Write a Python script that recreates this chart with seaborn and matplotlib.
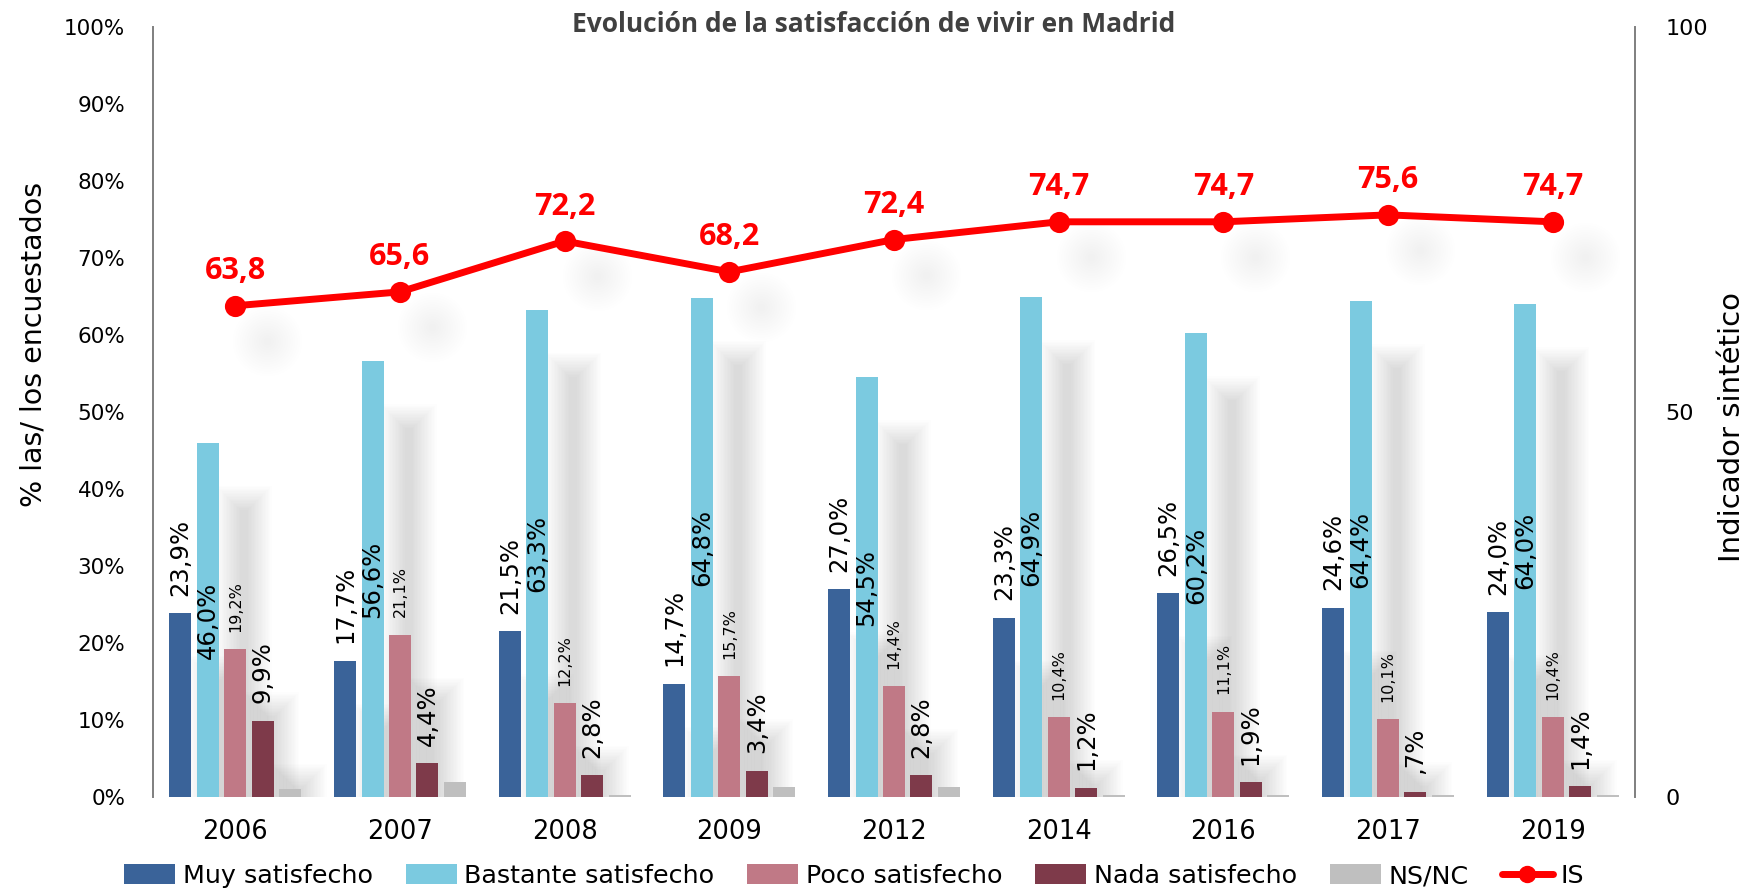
import numpy as np
import pandas as pd
import matplotlib
matplotlib.use("Agg")
import matplotlib.pyplot as plt
import seaborn as sns
from matplotlib.transforms import offset_copy
from matplotlib.patches import Patch
from matplotlib.lines import Line2D
from matplotlib.ticker import PercentFormatter

# ---------------- data ----------------
years = ['2006', '2007', '2008', '2009', '2012', '2014', '2016', '2017', '2019']
categories = ['Muy satisfecho', 'Bastante satisfecho', 'Poco satisfecho',
              'Nada satisfecho', 'NS/NC']
muy = [23.9, 17.7, 21.5, 14.7, 27.0, 23.3, 26.5, 24.6, 24.0]
bastante = [46.0, 56.6, 63.3, 64.8, 54.5, 64.9, 60.2, 64.4, 64.0]
poco = [19.2, 21.1, 12.2, 15.7, 14.4, 10.4, 11.1, 10.1, 10.4]
nada = [9.9, 4.4, 2.8, 3.4, 2.8, 1.2, 1.9, 0.7, 1.4]
nsnc = [1.0, 1.9, 0.2, 1.3, 1.3, 0.2, 0.3, 0.2, 0.2]
is_label = 'IS'
is_vals = [63.8, 65.6, 72.2, 68.2, 72.4, 74.7, 74.7, 75.6, 74.7]
title = 'Evolución de la satisfacción de vivir en Madrid'
ylabel_left = '% las/ los encuestados'
ylabel_right = 'Indicador sintético'

colors = ['#3A6399', '#7BCAE0', '#C07986', '#7E3A4A', '#BFBFBF']
RED = '#FF0000'

series = [muy, bastante, poco, nada, nsnc]


def fmt(v):
    s = f"{v:.1f}".replace('.', ',')
    if s.startswith('0'):
        s = s[1:]
    return s + '%'


# ---------------- figure ----------------
sns.set_theme(style='white')
plt.rcParams['font.family'] = ['DejaVu Sans']
plt.rcParams['text.color'] = 'black'
plt.rcParams['xtick.color'] = 'black'
plt.rcParams['ytick.color'] = 'black'

W, H = 1754, 889
fig = plt.figure(figsize=(W / 100, H / 100), dpi=100)
L, R, B, T = 153, 1635, 797, 27
ax = fig.add_axes([L / W, 1 - B / H, (R - L) / W, (B - T) / H])

df = pd.DataFrame({
    'year': years * len(categories),
    'cat': np.repeat(categories, len(years)),
    'value': np.concatenate(series),
})
sns.barplot(data=df, x='year', y='value', hue='cat', hue_order=categories,
            palette=colors, width=0.833, gap=0.2, saturation=1, ax=ax,
            legend=False, zorder=2, linewidth=0)
bar_containers = list(ax.containers)

# soft drop shadows (Excel style) behind bars
pxx = (R - L) / len(years)
pxy = (B - T) / 100.0
tr_bar = offset_copy(ax.transData, fig=fig, x=36, y=-60, units='dots')
xs, ws, hs = [], [], []
for cont in bar_containers:
    for p in cont:
        xs.append(p.get_x())
        ws.append(p.get_width())
        hs.append(p.get_height())
xs, ws, hs = np.array(xs), np.array(ws), np.array(hs)
N = 18
a = 1 - (1 - 0.16) ** (1 / N)
for k in range(N):
    e = -7 + 24 * k / (N - 1)
    ex, ey = e / pxx, e / pxy
    ax.bar(xs - ex, hs + ey + 10, width=ws + 2 * ex, bottom=-10, align='edge',
           color='black', alpha=a, transform=tr_bar, zorder=1, linewidth=0)

# bar labels
ax.bar_label(bar_containers[0], labels=[fmt(v) for v in muy], rotation=90,
             padding=12.5, fontsize=17.5, color='black')
ax.bar_label(bar_containers[1], labels=[fmt(v) for v in bastante], rotation=90,
             label_type='center', fontsize=17.5, color='black')
ax.bar_label(bar_containers[2], labels=[fmt(v) for v in poco], rotation=90,
             padding=12.5, fontsize=11.5, color='black')
ax.bar_label(bar_containers[3], labels=[fmt(v) for v in nada], rotation=90,
             padding=12.5, fontsize=17.5, color='black')

# secondary axis: IS line
ax2 = ax.twinx()
xpos = np.arange(len(years))
tr_dot = offset_copy(ax2.transData, fig=fig, x=32, y=-35, units='dots')
Nd = 14
ad = 1 - (1 - 0.065) ** (1 / Nd)
for k in range(Nd):
    d = 8 + 62 * k / (Nd - 1)
    ax2.scatter(xpos, is_vals, s=(d * 0.72) ** 2, color='black', alpha=ad,
                linewidths=0, transform=tr_dot, zorder=1)

sns.pointplot(x=years, y=is_vals, ax=ax2, color=RED, markers='o',
              markersize=11.5, linewidth=5, errorbar=None)
for i, v in enumerate(is_vals):
    ax2.annotate(f"{v:.1f}".replace('.', ','), (i, v), xytext=(0, 19),
                 textcoords='offset points', ha='center', va='baseline',
                 color=RED, fontsize=22, fontweight='bold', family='Open Sans')

# axes formatting
ax.set_ylim(0, 100)
ax.set_yticks(range(0, 101, 10))
ax.yaxis.set_major_formatter(PercentFormatter(decimals=0))
ax2.set_ylim(0, 100)
ax2.set_yticks([0, 50, 100])
ax.set_xlim(-0.5, len(years) - 0.5)
ax.set_xticks(xpos)
ax.set_xticklabels(years)
ax.set_xlabel('')
ax.set_ylabel('')
ax2.set_xlabel('')
ax2.set_ylabel('')
ax.tick_params(axis='y', length=0, pad=20, labelsize=15.5, labelcolor='black')
ax.tick_params(axis='x', length=0, pad=16, labelsize=18.5, labelcolor='black')
ax2.tick_params(axis='y', length=0, pad=22, labelsize=16, labelcolor='black')

for s in ['top', 'bottom', 'right']:
    ax.spines[s].set_visible(False)
for s in ['top', 'bottom', 'left']:
    ax2.spines[s].set_visible(False)
ax.spines['left'].set_color('#7F7F7F')
ax.spines['left'].set_linewidth(1.4)
ax2.spines['right'].set_color('#7F7F7F')
ax2.spines['right'].set_linewidth(1.4)

# texts
fig.text(874 / W, 1 - 25 / H, title, ha='center', va='center', fontsize=19,
         fontweight='bold', color='#404040', family='Open Sans')
fig.text(34 / W, 1 - 344 / H, ylabel_left, rotation=90, ha='center',
         va='center', fontsize=20.5, color='black')
fig.text(1732 / W, 1 - 427 / H, ylabel_right, rotation=90, ha='center',
         va='center', fontsize=21, color='black')

# legend
handles = [Patch(facecolor=c, edgecolor='none') for c in colors]
handles.append(Line2D([], [], color=RED, lw=5, marker='o', markersize=11.5))
fig.legend(handles, categories + [is_label], loc='center',
           bbox_to_anchor=(854 / W, 1 - 876 / H), ncol=6, frameon=False,
           fontsize=18.3, handlelength=2.0, handleheight=0.8,
           handletextpad=0.3, columnspacing=1.3)

fig.savefig('out.png', dpi=100, facecolor='white')
